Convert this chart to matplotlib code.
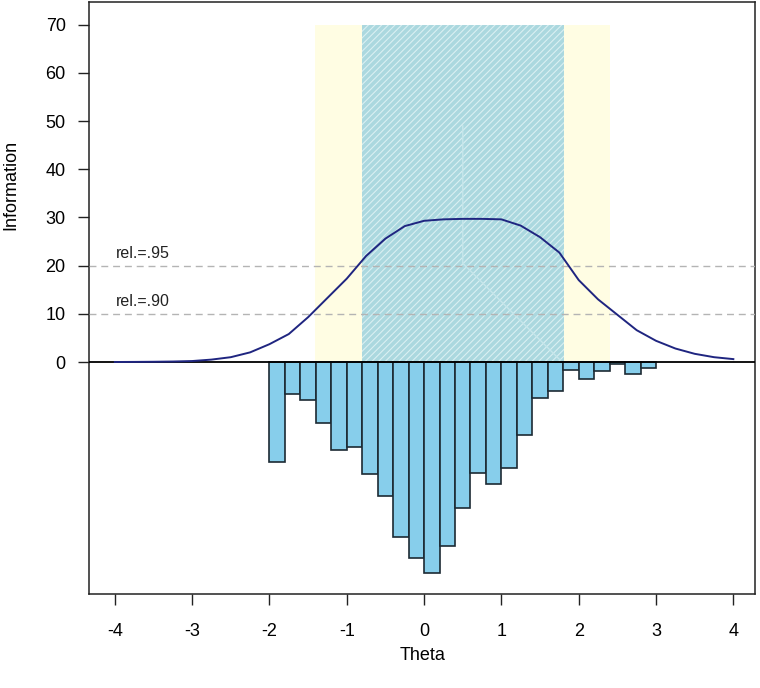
import matplotlib
matplotlib.use("Agg")
import matplotlib.pyplot as plt

plt.rcParams['font.family'] = ['Liberation Sans', 'DejaVu Sans']
plt.rcParams['hatch.linewidth'] = 0.8
plt.rcParams['axes.unicode_minus'] = False

# curva de informacao do teste
theta = [-4.0, -3.75, -3.5, -3.25, -3.0, -2.75, -2.5, -2.25, -2.0, -1.75, -1.5,
         -1.25, -1.0, -0.75, -0.5, -0.25, 0.0, 0.25, 0.5, 0.75, 1.0, 1.25, 1.5,
         1.75, 2.0, 2.25, 2.5, 2.75, 3.0, 3.25, 3.5, 3.75, 4.0]
info = [0.0, 0.02, 0.05, 0.1, 0.2, 0.5, 1.0, 2.0, 3.7, 5.8, 9.3,
        13.3, 17.3, 22.0, 25.6, 28.2, 29.3, 29.6, 29.7, 29.7, 29.6, 28.3, 25.9,
        22.7, 17.0, 13.0, 9.8, 6.6, 4.4, 2.8, 1.7, 1.0, 0.6]

# histograma (desenhado para baixo)
hist_edges = [-2.0, -1.8, -1.6, -1.4, -1.2, -1.0, -0.8, -0.6, -0.4, -0.2, 0.0,
              0.2, 0.4, 0.6, 0.8, 1.0, 1.2, 1.4, 1.6, 1.8, 2.0, 2.2, 2.4, 2.6, 2.8]
hist_vals = [20.7, 6.6, 7.9, 12.7, 18.2, 17.7, 23.2, 27.7, 36.3, 40.6, 43.7,
             38.1, 30.2, 23.1, 25.3, 22.0, 15.2, 7.4, 6.1, 1.7, 3.6, 1.8, 0.4, 2.4, 1.2]

# faixas de confiabilidade
rel90_range = [-1.41, 2.40]
rel95_range = [-0.80, 1.81]
rel_levels = [10, 20]
rel_labels = ["rel.=.90", "rel.=.95"]

# linha clara dentro da faixa
faint_x = [0.5, 0.5, 1.76]
faint_y = [49, 20.5, 0.4]

fig = plt.figure(figsize=(7.6, 6.88), dpi=100)
ax = fig.add_axes([89.3 / 760, (688 - 594.3) / 688, (755 - 89.3) / 760, (594.3 - 2) / 688])

ax.fill_between(rel90_range, 0, 70, color='#fffde3', linewidth=0, zorder=1)
ax.fill_between(rel95_range, 0, 70, color='#abd8df', linewidth=0, zorder=2)
ax.fill_between(rel95_range, 0, 70, facecolor='none', edgecolor='#d9eff2',
                hatch='/////', linewidth=0, zorder=3)
ax.plot(faint_x, faint_y, color='#c6e6eb', lw=1.0, zorder=3.5)

for lev, lab in zip(rel_levels, rel_labels):
    ax.axhline(lev, color='#b4b4b4', lw=1.0, ls=(0, (5, 3.5)), zorder=4)
    ax.text(-3.98, lev + 0.9, lab, fontsize=11.5, ha='left', va='bottom', color='#222222', zorder=5)

ax.bar(hist_edges, [-v for v in hist_vals], width=0.2, align='edge', color='#87ceeb',
       edgecolor='#1c2a33', linewidth=1.2, zorder=5)

ax.axhline(0, color='black', lw=1.3, zorder=6)
ax.plot(theta, info, color='#1f2580', lw=1.4, zorder=7)

ax.set_xlim(-4.33, 4.28)
ax.set_ylim(-48.2, 74.7)
ax.set_xticks(range(-4, 5))
ax.set_yticks(range(0, 80, 10))
ax.tick_params(axis='both', direction='out', length=8, width=1.0, labelsize=13, color='#222222')
ax.tick_params(axis='x', pad=13)
ax.tick_params(axis='y', pad=9)
for s in ax.spines.values():
    s.set_linewidth(1.1)
    s.set_color('#222222')

ax.set_xlabel("Theta", fontsize=13)
ax.set_ylabel("Information", fontsize=13)
ax.xaxis.set_label_coords(0.5, -0.0895)
ax.yaxis.set_label_coords(-0.1050, 0.691)

fig.savefig("out.png", dpi=100)
